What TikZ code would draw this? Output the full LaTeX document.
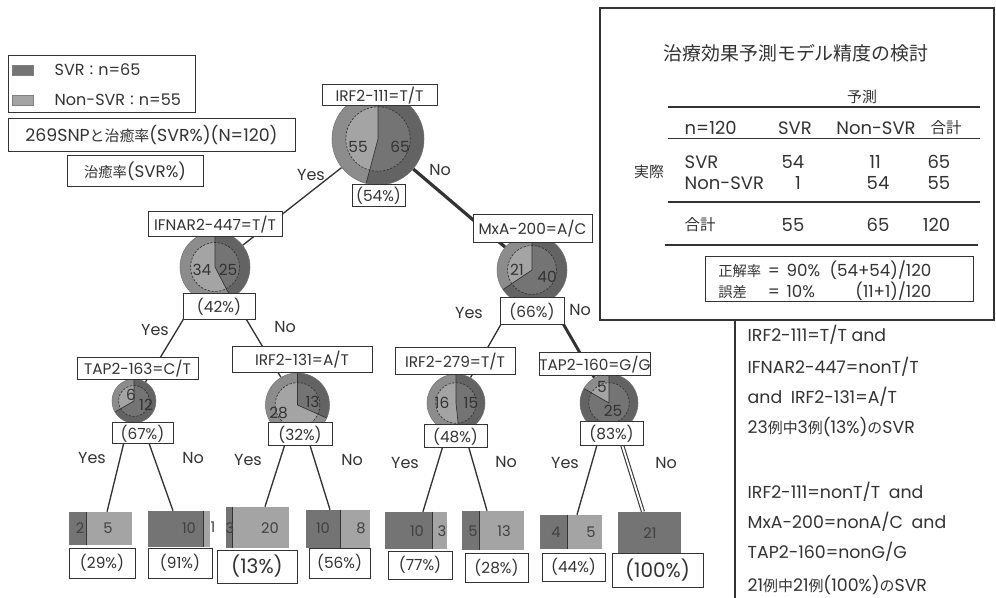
\documentclass[tikz,border=0pt]{standalone}
\usepackage{fontspec}
\setmainfont{Poppins}
\newfontfamily\jpfont[Scale=0.86]{Noto Sans CJK JP}
\newcommand\jtext[1]{{\jpfont #1}}
\newcommand\fsz[1]{\fontsize{#1}{#1}\selectfont}
\usetikzlibrary{backgrounds,calc}
\definecolor{dkc}{HTML}{747474}
\definecolor{lgc}{HTML}{A4A4A4}
\definecolor{inkc}{HTML}{333333}
\newcommand\mypie[4]{%
  \node[circle,inner sep=0pt,minimum size={1.5pt*#3}] (#1) at (#2) {};
  \fill[lgc] (#1.center) circle[radius=#3];
  \fill[dkc] (#1.center) -- ++(90:#3) arc[start angle=90, delta angle=-#4, radius=#3] -- cycle;
  \fill[black,opacity=0.14,even odd rule] (#1.center) circle[radius=#3] circle[radius={0.7*#3}];
  \draw[inkc,line width=0.5pt] (#1.center) -- ++(90:#3) (#1.center) -- ++({90-#4}:#3);
  \draw[inkc,line width=0.5pt,dash pattern=on 1.6pt off 1.2pt] (#1.center) circle[radius={0.7*#3}];
  \draw[black!55,line width=0.4pt] (#1.center) circle[radius=#3];
}
\newcommand\myleaf[6]{%
  \node[inner sep=0pt,fill=lgc,minimum width={0.75pt*#4},minimum height={0.75pt*#5}] (#1) at (#2,#3) {};
  \fill[dkc] (#1.north west) rectangle ($(#1.south west)+(#6,0)$);
  \draw[line width=1.1pt,inkc] ($(#1.north west)+(#6,0)$) -- ($(#1.south west)+(#6,0)$);
}
\tikzset{
  conn/.style={draw=inkc,line width=1pt},
  lab/.style={draw=inkc,fill=white,line width=0.75pt,inner sep=0pt,font=\fsz{11.5}},
  pct/.style={draw=inkc,fill=white,line width=0.75pt,inner sep=0pt,font=\fsz{11.5}},
  bigpct/.style={draw=inkc,fill=white,line width=0.75pt,inner sep=0pt,font=\fsz{15}},
  yn/.style={font=\fsz{12}},
  pnum/.style={font=\fsz{11.5},text=black!80},
  lnum/.style={font=\fsz{11},text=black!75},
  tbl/.style={font=\fsz{13.5}},
  rtxt/.style={font=\fsz{13},anchor=west},
  swatch/.style={draw=black!50,line width=0.4pt,minimum width=15.75pt,minimum height=7.5pt,inner sep=0pt},
  plainbox/.style={draw=inkc,line width=0.75pt,inner sep=0pt},
}
\begin{document}
\begin{tikzpicture}[x=0.75pt,y=0.75pt,every node/.style={text=inkc}]
\useasboundingbox (0,0) rectangle (996,-598);
\begin{scope}[on background layer]
  \fill[white] (0,0) rectangle (996,-598);
\end{scope}

% legend
\node[plainbox,minimum width=140.25pt,minimum height=42.75pt] (legend) at (101.5,-84.5) {};
\node[swatch,fill=dkc] (swD) at (22.5,-70) {};
\node[swatch,fill=lgc] (swL) at (22.5,-100) {};
\node[anchor=west,font=\fsz{12}] (lgD) at (50,-70) {SVR\jtext{：}n=65};
\node[anchor=west,font=\fsz{12}] (lgL) at (50,-100) {Non-SVR\jtext{：}n=55};
\node[plainbox,minimum width=215.25pt,minimum height=24.75pt,font=\fsz{13}] (snp) at (151.5,-135.5) {269SNP\jtext{と治癒率}(SVR\%)(N=120)};
\node[plainbox,minimum width=102pt,minimum height=23.25pt,font=\fsz{12.5}] (rate) at (135,-171.5) {\jtext{治癒率}(SVR\%)};

% pies
\mypie{pRoot}{378,-139}{46}{195}
\mypie{pIF}{215,-267}{35}{152.5}
\mypie{pMx}{532,-270}{35}{236}
\mypie{pT163}{134,-401}{22}{240}
\mypie{p131}{297.5,-405}{32}{114}
\mypie{p279}{456,-403}{29}{174}
\mypie{pT160}{609,-403}{29}{300}

% pie numbers
\node[pnum] (nR1) at ($(pRoot)+(-20,-8)$) {55};
\node[pnum] (nR2) at ($(pRoot)+(22,-8)$) {65};
\node[pnum] (nI1) at ($(pIF)+(-13,-3)$) {34};
\node[pnum] (nI2) at ($(pIF)+(13,-3)$) {25};
\node[pnum] (nM1) at ($(pMx)+(-15,0)$) {21};
\node[pnum] (nM2) at ($(pMx)+(15,-7)$) {40};
\node[pnum] (nT1) at ($(pT163)+(-3,6)$) {6};
\node[pnum] (nT2) at ($(pT163)+(12,-4)$) {12};
\node[pnum] (nA1) at ($(p131)+(-19,-8)$) {28};
\node[pnum] (nA2) at ($(p131)+(15,3)$) {13};
\node[pnum] (nB1) at ($(p279)+(-14,0)$) {16};
\node[pnum] (nB2) at ($(p279)+(15,0)$) {15};
\node[pnum] (nC1) at ($(pT160)+(-7,16)$) {5};
\node[pnum] (nC2) at ($(pT160)+(4,-8)$) {25};

% split labels
\node[lab,minimum width=86.25pt,minimum height=15.75pt] (lRoot) at (379.5,-95.5) {IRF2-111=T/T};
\node[lab,minimum width=100.5pt,minimum height=18.75pt] (lIF) at (215,-224.5) {IFNAR2-447=T/T};
\node[lab,minimum width=89.25pt,minimum height=21pt] (lMx) at (532.5,-229) {MxA-200=A/C};
\node[lab,minimum width=90.75pt,minimum height=16.5pt] (lT163) at (137.5,-369) {TAP2-163=C/T};
\node[lab,minimum width=105pt,minimum height=19.5pt] (l131) at (302,-360) {IRF2-131=A/T};
\node[lab,minimum width=90pt,minimum height=20.25pt] (l279) at (455,-361.5) {IRF2-279=T/T};
\node[lab,minimum width=79.5pt,minimum height=17.25pt] (lT160) at (595,-364.5) {TAP2-160=G/G};

% percentage boxes
\node[pct,minimum width=39.75pt,minimum height=16.5pt] (qRoot) at (378.5,-196) {(54\%)};
\node[pct,minimum width=54pt,minimum height=19.5pt] (qIF) at (219,-307) {(42\%)};
\node[pct,minimum width=48pt,minimum height=20.25pt] (qMx) at (532,-311.5) {(66\%)};
\node[pct,minimum width=45.75pt,minimum height=15.75pt] (qT163) at (142.5,-433.5) {(67\%)};
\node[pct,minimum width=48pt,minimum height=17.25pt] (q131) at (300,-434.5) {(32\%)};
\node[pct,minimum width=47.25pt,minimum height=17.25pt] (q279) at (455.5,-436.5) {(48\%)};
\node[pct,minimum width=47.25pt,minimum height=18pt] (qT160) at (611.5,-434) {(83\%)};

% yes / no
\node[yn] (y0) at (311,-175) {Yes};
\node[yn] (n0) at (440,-170) {No};
\node[yn] (y1) at (155,-330) {Yes};
\node[yn] (n1) at (285,-327) {No};
\node[yn] (y2) at (469,-313) {Yes};
\node[yn] (n2) at (580,-310) {No};
\node[yn] (y3) at (92,-458) {Yes};
\node[yn] (n3) at (193,-458) {No};
\node[yn] (y4) at (248,-460) {Yes};
\node[yn] (n4) at (352,-460) {No};
\node[yn] (y5) at (405,-463) {Yes};
\node[yn] (n5) at (506,-462) {No};
\node[yn] (y6) at (565,-463) {Yes};
\node[yn] (n6) at (666,-463) {No};

% leaves
\myleaf{leaf1}{100.5}{-528.5}{63}{33}{18}
\myleaf{leaf2}{179}{-529}{62}{36}{56}
\myleaf{leaf3}{257.5}{-527.5}{63}{41}{7}
\myleaf{leaf4}{338}{-529}{64}{38}{35}
\myleaf{leaf5}{416}{-530.5}{62}{37}{48}
\myleaf{leaf6}{493}{-530.5}{62}{39}{18}
\myleaf{leaf7}{571}{-532}{62}{34}{28}
\node[inner sep=0pt,fill=dkc,minimum width=47.25pt,minimum height=30.75pt] (leaf8) at (649.5,-532.5) {};

\node[lnum] (v1a) at (80,-528) {2};
\node[lnum] (v1b) at (108,-528) {5};
\node[lnum] (v2a) at (189,-528) {10};
\node[lnum] (v2b) at (213,-527) {1};
\node[lnum] (v3a) at (230,-528) {3};
\node[lnum] (v3b) at (270,-528) {20};
\node[lnum] (v4a) at (323,-528) {10};
\node[lnum] (v4b) at (361,-528) {8};
\node[lnum] (v5a) at (417,-531) {10};
\node[lnum] (v5b) at (442,-531) {3};
\node[lnum] (v6a) at (473,-531) {5};
\node[lnum] (v6b) at (504,-531) {13};
\node[lnum] (v7a) at (556,-532) {4};
\node[lnum] (v7b) at (591,-532) {5};
\node[lnum] (v8a) at (650,-533) {21};

\node[pct,minimum width=49.5pt,minimum height=22.5pt] (r1) at (102,-563) {(29\%)};
\node[pct,minimum width=48pt,minimum height=22.5pt] (r2) at (180,-563) {(91\%)};
\node[bigpct,minimum width=60pt,minimum height=24.75pt] (r3) at (257,-566.5) {(13\%)};
\node[pct,minimum width=45.75pt,minimum height=22.5pt] (r4) at (339.5,-563) {(56\%)};
\node[pct,minimum width=48pt,minimum height=21pt] (r5) at (420,-565) {(77\%)};
\node[pct,minimum width=47.25pt,minimum height=21.75pt] (r6) at (496.5,-567.5) {(28\%)};
\node[pct,minimum width=47.25pt,minimum height=21pt] (r7) at (573.5,-567) {(44\%)};
\node[bigpct,minimum width=68.25pt,minimum height=25.5pt] (r8) at (657.5,-570) {(100\%)};

% accuracy table
\draw[inkc,line width=0.8pt] (600,-8) rectangle (994,-320);
\draw[inkc,line width=1.3pt] (735,-320) -- (994,-320);
\draw[inkc,line width=1.3pt] (735,-320) -- (735,-598);
\node[font=\fsz{16.5}] (ttl) at (796,-53) {\jtext{治療効果予測モデル精度の検討}};
\node[font=\fsz{13}] (yosoku) at (862,-97) {\jtext{予測}};
\draw[inkc,line width=1.1pt] (668,-107) -- (980,-107);
\draw[inkc,line width=0.7pt] (668,-138) -- (980,-138);
\draw[inkc,line width=0.9pt] (668,-202) -- (980,-202);
\draw[inkc,line width=1.1pt] (665,-245) -- (978,-245);
\node[tbl,anchor=west] (hN) at (680,-128) {n=120};
\node[tbl] (hS) at (795,-128) {SVR};
\node[tbl] (hNS) at (876,-128) {Non-SVR};
\node[font=\fsz{13.5}] (hT) at (946,-128) {\jtext{合計}};
\node[font=\fsz{13}] (jissai) at (649,-172) {\jtext{実際}};
\node[tbl,anchor=west] (rS) at (680,-162) {SVR};
\node[tbl] (c11) at (793,-162) {54};
\node[tbl] (c12) at (875,-162) {11};
\node[tbl,anchor=east] (c13) at (955,-162) {65};
\node[tbl,anchor=west] (rN) at (680,-183) {Non-SVR};
\node[tbl] (c21) at (798,-183) {1};
\node[tbl] (c22) at (878,-183) {54};
\node[tbl,anchor=east] (c23) at (955,-183) {55};
\node[font=\fsz{13.5},anchor=west] (rT) at (680,-225) {\jtext{合計}};
\node[tbl] (c31) at (793,-225) {55};
\node[tbl] (c32) at (878,-225) {65};
\node[tbl,anchor=east] (c33) at (955,-225) {120};
\node[plainbox,minimum width=201pt,minimum height=33.75pt] (acc) at (839,-279.5) {};
\node[anchor=west,inner sep=0pt,font=\fontsize{12.5}{14.25}\selectfont] (acctxt) at (718,-282) {%
  \begin{tabular}{@{}l@{\hspace{5pt}}l@{\hspace{5pt}}l@{\hspace{7pt}}r@{}}
  \jtext{正解率} & = & 90\% & (54+54)/120\\
  \jtext{誤差} & = & 10\% & (11+1)/120
  \end{tabular}};

% right text
\node[rtxt] (t1) at (743,-335) {IRF2-111=T/T and};
\node[rtxt] (t2) at (743,-367) {IFNAR2-447=nonT/T};
\node[rtxt] (t3) at (743,-397) {and\enspace IRF2-131=A/T};
\node[rtxt] (t4) at (743,-427) {23\jtext{例中}3\jtext{例}(13\%)\jtext{の}SVR};
\node[rtxt] (t5) at (743,-492) {IRF2-111=nonT/T\enspace and};
\node[rtxt] (t6) at (743,-522) {MxA-200=nonA/C\enspace and};
\node[rtxt] (t7) at (743,-552) {TAP2-160=nonG/G};
\node[rtxt] (t8) at (743,-585) {21\jtext{例中}21\jtext{例}(100\%)\jtext{の}SVR};

% connectors
\begin{scope}[on background layer]
  \draw[conn] (pRoot) -- (pIF);
  \draw[conn,line width=2.4pt] (pRoot) -- (pMx);
  \draw[conn] (pIF) -- (pT163);
  \draw[conn] (pIF) -- (p131);
  \draw[conn] (pMx) -- (p279);
  \draw[conn,line width=2.2pt] (pMx) -- (pT160);
  \draw[conn] (pT163) -- ([xshift=4.9pt]leaf1.north);
  \draw[conn] (pT163) -- ([xshift=-4.5pt]leaf2.north);
  \draw[conn] (p131) -- ([xshift=5.6pt]leaf3.north);
  \draw[conn] (p131) -- ([xshift=-6pt]leaf4.north);
  \draw[conn] (p279) -- ([xshift=5.2pt]leaf5.north);
  \draw[conn] (p279) -- ([xshift=-4.5pt]leaf6.north);
  \draw[conn] (pT160) -- ([xshift=4.5pt]leaf7.north);
  \draw[conn,line width=0.8pt,double=white,double distance=1.4pt] (pT160) -- ([xshift=-4.9pt]leaf8.north);
\end{scope}
\end{tikzpicture}
\end{document}
